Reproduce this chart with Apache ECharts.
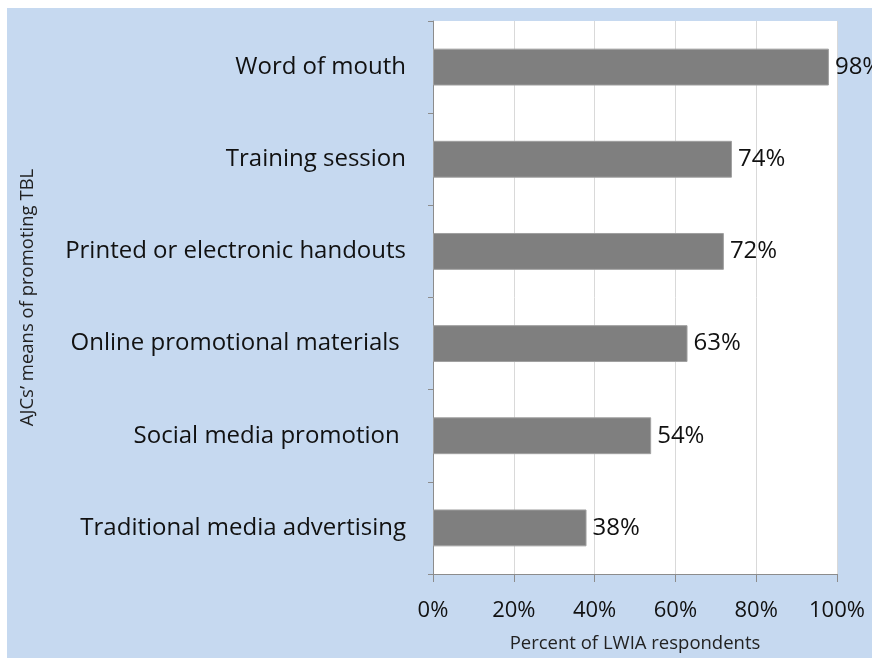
<!DOCTYPE html>
<html>
<head>
<meta charset="utf-8">
<script src="https://cdn.jsdelivr.net/npm/echarts@6/dist/echarts.min.js"></script>
<style>
  html, body { margin: 0; padding: 0; background: #fff; overflow: hidden; }
  #chart { position: absolute; left: 0; top: 0; width: 872px; height: 658px; }
</style>
</head>
<body>
<div id="chart"></div>
<script>
// top to bottom, as in the picture
const categories = [
  'Word of mouth',
  'Training session',
  'Printed or electronic handouts',
  'Online promotional materials ',
  'Social media promotion ',
  'Traditional media advertising'
]
const percents = [98, 74, 72, 63, 54, 38]

const FONT = '"Open Sans", Lato, sans-serif'
const chart = echarts.init(document.getElementById('chart'))

chart.setOption({
  backgroundColor: '#fff',
  animation: false,
  // light blue chart area, inset from the white page edge
  graphic: [{
    type: 'rect', left: 7, top: 8, z: -10, silent: true,
    shape: { width: 865, height: 650 },
    style: { fill: '#c6d9f0' }
  }],
  grid: {
    left: 433, top: 21, width: 404, height: 561,
    show: true, backgroundColor: '#fff', borderWidth: 0
  },
  xAxis: {
    type: 'value',
    min: 0, max: 100, interval: 20,
    name: 'Percent of LWIA respondents',
    nameLocation: 'middle',
    nameGap: 60,
    nameTextStyle: { fontFamily: FONT, fontSize: 18.5, color: '#222' },
    axisLine: { show: true, lineStyle: { color: '#8c8c8c' } },
    axisTick: { show: true, length: 8, lineStyle: { color: '#8c8c8c' } },
    axisLabel: { formatter: '{value}%', fontFamily: FONT, fontSize: 22, color: '#111', margin: 26 },
    splitLine: { lineStyle: { color: '#d9d9d9' } }
  },
  yAxis: {
    type: 'category',
    data: categories,
    inverse: true,
    name: 'AJCs’ means of promoting TBL',
    nameLocation: 'middle',
    nameGap: 396,
    nameTextStyle: { fontFamily: FONT, fontSize: 18.5, color: '#222' },
    axisLine: { show: true, lineStyle: { color: '#8c8c8c' } },
    axisTick: { show: true, length: 5, lineStyle: { color: '#8c8c8c' } },
    axisLabel: { fontFamily: FONT, fontSize: 24, color: '#111', margin: 27 },
    splitLine: { show: false }
  },
  series: [{
    type: 'bar',
    data: percents,
    barWidth: '40%',
    itemStyle: { color: '#7f7f7f', borderColor: '#a0a0a0', borderWidth: 1 },
    label: {
      show: true, position: 'right', distance: 6,
      formatter: '{c}%', fontFamily: FONT, fontSize: 24, color: '#111'
    }
  }]
})
</script>
</body>
</html>
